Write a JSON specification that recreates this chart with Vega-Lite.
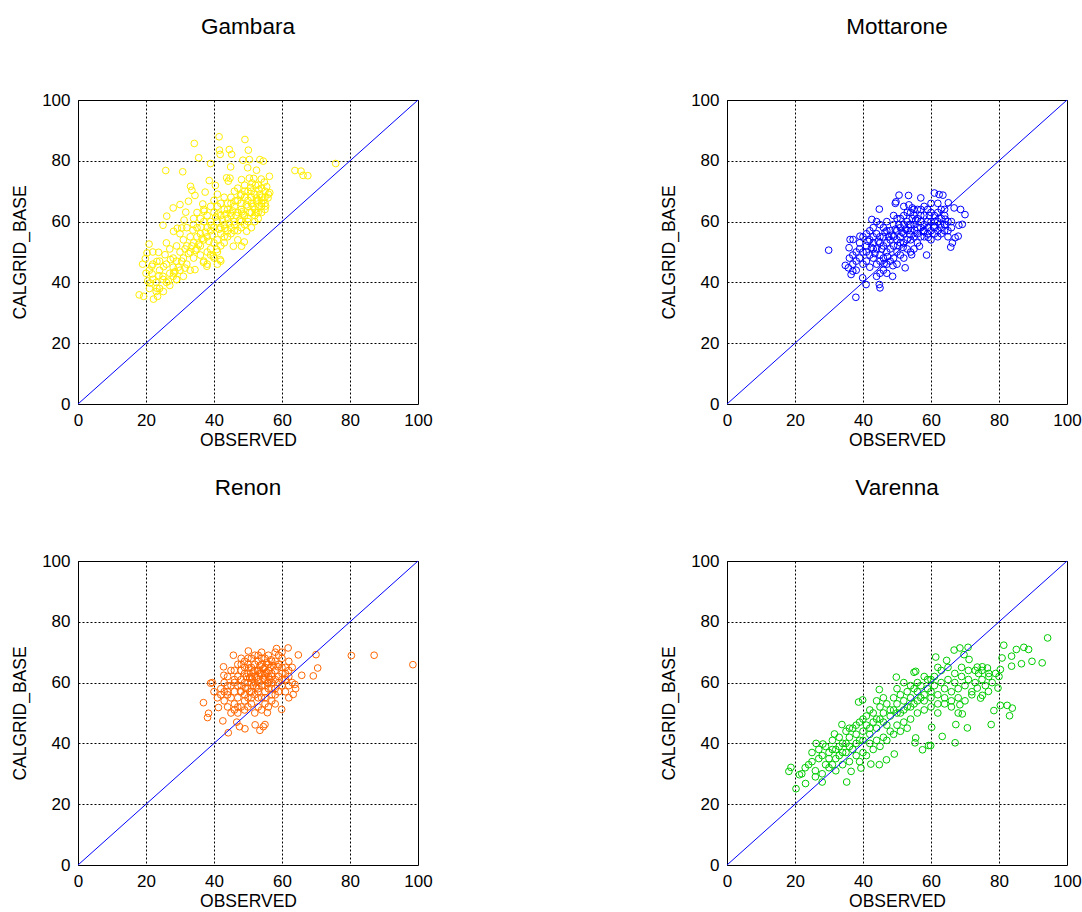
{
"$schema": "https://vega.github.io/schema/vega-lite/v6.json",
"padding": {"left": 11, "top": 15, "right": 5, "bottom": 5},
"background": "white",
"config": {
  "font": "Liberation Sans",
  "view": {"stroke": "#000000", "strokeWidth": 1},
  "axis": {"grid": true, "gridColor": "#000000", "gridDash": [2, 2], "gridOpacity": 1, "gridWidth": 1, "domain": false, "ticks": false, "labelFont": "Liberation Sans", "labelFontSize": 17, "labelColor": "#000000", "titleFont": "Liberation Sans", "titleFontSize": 17.5, "titleFontWeight": "normal", "titleColor": "#000000", "labelPadding": 8, "labelOverlap": false, "labelFlush": false},
  "axisX": {"titlePadding": 3},
  "axisY": {"titlePadding": 12},
  "title": {"font": "Liberation Sans", "fontSize": 22.5, "fontWeight": "normal", "color": "#000000", "offset": 53}
},
"datasets": {
  "diag": [{"x": 0, "y": 0}, {"x": 100, "y": 100}],
  "gambara": [
{"x":34.2,"y":85.7},{"x":41.5,"y":87.9},{"x":49.1,"y":87.0},{"x":41.6,"y":83.5},{"x":44.5,"y":83.7},{"x":50.1,"y":83.5},{"x":35.5,"y":81.0},{"x":45.2,"y":82.1},{"x":41.8,"y":82.1},{"x":25.8,"y":76.8},{"x":30.8,"y":76.4},{"x":39.0,"y":79.1},{"x":48.5,"y":80.2},{"x":50.4,"y":80.4},{"x":53.5,"y":80.4},{"x":54.5,"y":79.9},{"x":44.9,"y":78.0},{"x":49.9,"y":77.7},{"x":52.5,"y":76.9},{"x":63.8,"y":76.8},{"x":65.6,"y":76.6},{"x":66.2,"y":75.2},{"x":67.6,"y":75.1},{"x":75.8,"y":79.1},{"x":56.3,"y":74.9},{"x":18.0,"y":35.9},{"x":19.3,"y":35.4},{"x":22.2,"y":34.5},{"x":20.9,"y":52.6},{"x":19.8,"y":47.8},{"x":20.3,"y":49.7},{"x":26.1,"y":61.8},{"x":25.0,"y":58.8},{"x":28.0,"y":64.5},{"x":30.0,"y":65.6},{"x":33.1,"y":71.6},{"x":33.5,"y":70.3},{"x":34.4,"y":68.6},{"x":37.4,"y":69.7},{"x":38.6,"y":73.5},{"x":40.4,"y":71.9},{"x":43.7,"y":74.4},{"x":44.7,"y":74.3},{"x":44.2,"y":73.3},{"x":48.1,"y":73.8},{"x":50.4,"y":74.3},{"x":51.7,"y":74.2},{"x":53.9,"y":74.0},{"x":56.4,"y":69.5},{"x":55.9,"y":67.8},{"x":36.7,"y":65.8},{"x":37.1,"y":63.4},{"x":32.5,"y":66.7},{"x":31.7,"y":63.1},{"x":30.5,"y":57.9},{"x":28.1,"y":56.8},{"x":23.7,"y":49.9},{"x":25.6,"y":49.1},{"x":21.7,"y":45.3},{"x":23.2,"y":46.9},{"x":21.2,"y":39.8},{"x":23.2,"y":38.1},{"x":25.1,"y":37.0},{"x":23.4,"y":35.4},{"x":26.6,"y":40.4},{"x":28.1,"y":43.1},{"x":29.0,"y":40.9},{"x":31.5,"y":44.7},{"x":34.4,"y":44.2},{"x":36.9,"y":46.6},{"x":37.9,"y":45.3},{"x":39.8,"y":48.6},{"x":41.8,"y":47.5},{"x":40.8,"y":50.8},{"x":45.7,"y":51.9},{"x":48.1,"y":51.9},{"x":48.9,"y":53.3},{"x":49.6,"y":56.8},{"x":52.5,"y":62.9},{"x":55.2,"y":65.1},{"x":52.5,"y":67.8},{"x":51.2,"y":72.7},
{"x":38,"y":55},{"x":39,"y":57},{"x":40,"y":58},{"x":41,"y":60},{"x":42,"y":56},{"x":43,"y":59},{"x":44,"y":61},{"x":45,"y":62},{"x":46,"y":60},{"x":47,"y":63},{"x":48,"y":64},{"x":49,"y":62},{"x":50,"y":65},{"x":51,"y":66},{"x":52,"y":64},{"x":53,"y":67},{"x":54,"y":68},{"x":55,"y":66},{"x":40,"y":53},{"x":41,"y":54},{"x":42,"y":62},{"x":43,"y":64},{"x":44,"y":57},{"x":45,"y":58},{"x":46,"y":65},{"x":47,"y":67},{"x":48,"y":60},{"x":49,"y":68},{"x":50,"y":61},{"x":51,"y":70},{"x":52,"y":69},{"x":53,"y":63},{"x":54,"y":71},{"x":55,"y":70},{"x":39,"y":60},{"x":40,"y":63},{"x":41,"y":65},{"x":42,"y":58},{"x":43,"y":55},{"x":44,"y":66},{"x":45,"y":68},{"x":46,"y":59},{"x":47,"y":57},{"x":48,"y":66},{"x":49,"y":70},{"x":50,"y":67},{"x":51,"y":63},{"x":52,"y":60},{"x":53,"y":72},{"x":54,"y":65},{"x":55,"y":68},{"x":56,"y":69},{"x":36,"y":52},{"x":37,"y":54},{"x":38,"y":58},{"x":39,"y":51},{"x":35,"y":55},{"x":34,"y":53},{"x":33,"y":50},{"x":32,"y":52},{"x":31,"y":48},{"x":30,"y":50},{"x":29,"y":47},{"x":28,"y":45},{"x":27,"y":43},{"x":26,"y":46},{"x":25,"y":42},{"x":24,"y":44},{"x":23,"y":40},{"x":22,"y":41},{"x":21,"y":38},{"x":24,"y":38},{"x":26,"y":40},{"x":28,"y":42},{"x":30,"y":44},{"x":32,"y":46},{"x":34,"y":48},{"x":36,"y":49},{"x":38,"y":50},{"x":33,"y":55},{"x":35,"y":58},{"x":37,"y":60},{"x":34,"y":61},{"x":36,"y":56},{"x":31,"y":54},{"x":29,"y":52},{"x":27,"y":51},{"x":30,"y":56},{"x":32,"y":58},{"x":28,"y":48},{"x":26,"y":53},{"x":24,"y":47},{"x":22,"y":46},{"x":35,"y":51},{"x":37,"y":47},{"x":39,"y":49},{"x":41,"y":50},{"x":42,"y":52},{"x":43,"y":53},{"x":44,"y":55},{"x":45,"y":56},{"x":46,"y":57},{"x":47,"y":54},{"x":48,"y":58},{"x":49,"y":59},{"x":50,"y":60},{"x":51,"y":58},{"x":52,"y":62},{"x":53,"y":61},{"x":54,"y":63},{"x":55,"y":64},{"x":44,"y":64},{"x":45,"y":66},{"x":46,"y":70},{"x":47,"y":71},{"x":48,"y":69},{"x":49,"y":72},{"x":50,"y":70},{"x":51,"y":68},{"x":53,"y":65},{"x":54,"y":66},{"x":43,"y":68},{"x":42,"y":66},{"x":41,"y":69},{"x":40,"y":67},{"x":39,"y":65},{"x":38,"y":62},{"x":37,"y":64},{"x":36,"y":61},{"x":35,"y":63},{"x":34,"y":59},{"x":40,"y":48},{"x":42,"y":47},{"x":41,"y":46},{"x":38,"y":46},{"x":33,"y":44},{"x":31,"y":42},{"x":29,"y":41},{"x":27,"y":39},{"x":25,"y":41},{"x":23,"y":37},{"x":20,"y":43},{"x":21,"y":44},{"x":22,"y":50},{"x":19,"y":46},
{"x":42.5,"y":60.5},{"x":43.5,"y":62.5},{"x":44.5,"y":59.5},{"x":45.5,"y":63.5},{"x":46.5,"y":62},{"x":47.5,"y":60.5},{"x":48.5,"y":62.5},{"x":49.5,"y":65.5},{"x":50.5,"y":63},{"x":51.5,"y":65},{"x":52.5,"y":66.5},{"x":53.5,"y":69},{"x":54.5,"y":67},{"x":55.5,"y":71.5},{"x":41.5,"y":57.5},{"x":40.5,"y":61.5},{"x":39.5,"y":55.5},{"x":38.5,"y":53.5},{"x":37.5,"y":56.5},{"x":36.5,"y":54.5},{"x":35.5,"y":52.5},{"x":34.5,"y":50.5},{"x":33.5,"y":52},{"x":32.5,"y":49.5},{"x":31.5,"y":51},{"x":30.5,"y":47},{"x":29.5,"y":45},{"x":28.5,"y":43.5},
{"x":46.2,"y":66.8},{"x":47.8,"y":68.5},{"x":50.8,"y":71.2},{"x":52.2,"y":72},{"x":53.2,"y":70.5},{"x":54.8,"y":73},{"x":48.2,"y":63.2},{"x":44.8,"y":62.8},{"x":43.2,"y":57.8},{"x":41.2,"y":62.5},{"x":39.2,"y":58.8},{"x":36.2,"y":58.2},{"x":33.8,"y":57.2},{"x":31.2,"y":60.5},{"x":29.2,"y":57.8},{"x":27.2,"y":47.5},{"x":25.2,"y":45.2},{"x":23.8,"y":42.2},{"x":21.8,"y":42.8},{"x":20.5,"y":40.5}
  ],
  "mottarone": [
{"x":29.9,"y":50.6},{"x":37.9,"y":35.1},{"x":45.0,"y":38.2},{"x":44.8,"y":39.3},{"x":40.9,"y":39.3},{"x":39.9,"y":41.5},{"x":48.7,"y":42.0},{"x":52.4,"y":44.8},{"x":34.8,"y":45.6},{"x":35.7,"y":44.8},{"x":36.5,"y":42.6},{"x":37.0,"y":43.7},{"x":35.9,"y":51.4},{"x":36.2,"y":54.1},{"x":37.1,"y":54.1},{"x":39.1,"y":55.2},{"x":42.6,"y":60.7},{"x":44.8,"y":64.1},{"x":49.5,"y":66.0},{"x":49.7,"y":66.5},{"x":50.6,"y":68.7},{"x":53.4,"y":68.6},{"x":57.0,"y":67.8},{"x":61.0,"y":69.4},{"x":62.4,"y":68.9},{"x":63.5,"y":68.7},{"x":65.1,"y":66.2},{"x":66.8,"y":64.5},{"x":68.7,"y":64.0},{"x":70.0,"y":62.3},{"x":69.2,"y":59.1},{"x":68.2,"y":58.8},{"x":68.0,"y":55.2},{"x":67.1,"y":54.7},{"x":65.8,"y":51.6},{"x":66.3,"y":53.0},{"x":58.7,"y":49.0},{"x":54.3,"y":49.1},{"x":56.6,"y":51.9},
{"x":40,"y":50},{"x":41,"y":52},{"x":42,"y":54},{"x":43,"y":48},{"x":44,"y":51},{"x":45,"y":53},{"x":46,"y":55},{"x":47,"y":50},{"x":48,"y":57},{"x":49,"y":52},{"x":50,"y":54},{"x":51,"y":58},{"x":52,"y":56},{"x":53,"y":60},{"x":54,"y":57},{"x":55,"y":59},{"x":56,"y":61},{"x":57,"y":58},{"x":58,"y":62},{"x":59,"y":56},{"x":60,"y":60},{"x":61,"y":58},{"x":62,"y":57},{"x":63,"y":61},{"x":64,"y":59},{"x":65,"y":57},{"x":66,"y":60},{"x":42,"y":57},{"x":43,"y":55},{"x":44,"y":46},{"x":45,"y":49},{"x":46,"y":58},{"x":47,"y":60},{"x":48,"y":47},{"x":49,"y":55},{"x":50,"y":61},{"x":51,"y":53},{"x":52,"y":62},{"x":53,"y":54},{"x":54,"y":63},{"x":55,"y":55},{"x":56,"y":56},{"x":57,"y":62},{"x":58,"y":59},{"x":59,"y":64},{"x":60,"y":57},{"x":61,"y":62},{"x":62,"y":55},{"x":63,"y":58},{"x":64,"y":62},{"x":65,"y":55},{"x":41,"y":47},{"x":42,"y":45},{"x":43,"y":51},{"x":44,"y":56},{"x":45,"y":59},{"x":46,"y":48},{"x":47,"y":53},{"x":48,"y":51},{"x":49,"y":59},{"x":50,"y":57},{"x":51,"y":49},{"x":52,"y":53},{"x":53,"y":57},{"x":54,"y":59},{"x":55,"y":62},{"x":56,"y":58},{"x":57,"y":55},{"x":58,"y":57},{"x":59,"y":60},{"x":60,"y":63},{"x":61,"y":56},{"x":62,"y":60},{"x":63,"y":56},{"x":38,"y":50},{"x":39,"y":48},{"x":40,"y":46},{"x":37,"y":49},{"x":38,"y":47},{"x":39,"y":53},{"x":40,"y":55},{"x":41,"y":56},{"x":42,"y":49},{"x":43,"y":58},{"x":44,"y":60},{"x":45,"y":47},{"x":46,"y":52},{"x":47,"y":46},{"x":48,"y":54},{"x":49,"y":48},{"x":50,"y":50},{"x":51,"y":55},{"x":52,"y":59},{"x":53,"y":51},{"x":54,"y":54},{"x":55,"y":51},{"x":56,"y":53},{"x":57,"y":60},{"x":58,"y":55},{"x":59,"y":58},{"x":60,"y":54},{"x":61,"y":60},{"x":62,"y":63},{"x":63,"y":64},{"x":64,"y":57},{"x":65,"y":60},{"x":66,"y":58},{"x":45,"y":43},{"x":47,"y":43},{"x":46,"y":44},{"x":44,"y":42},{"x":50,"y":46},{"x":52,"y":48},{"x":54,"y":50},{"x":53,"y":63},{"x":55,"y":64},{"x":57,"y":64},{"x":52,"y":65},{"x":51,"y":61},{"x":49,"y":62},{"x":47,"y":57},{"x":45,"y":55},{"x":43,"y":53},{"x":41,"y":50},{"x":39,"y":51},{"x":36,"y":48},{"x":37,"y":46},{"x":38,"y":44},{"x":60,"y":66},{"x":62,"y":66},{"x":64,"y":64},{"x":58,"y":65},{"x":56,"y":64},
{"x":48.5,"y":55.5},{"x":49.5,"y":57.5},{"x":50.5,"y":59},{"x":51.5,"y":56.5},{"x":52.5,"y":57.5},{"x":53.5,"y":59},{"x":54.5,"y":61},{"x":55.5,"y":60.5},{"x":47.5,"y":55},{"x":46.5,"y":56.5},{"x":45.5,"y":51},{"x":44.5,"y":53.5},{"x":43.5,"y":49.5},{"x":42.5,"y":51.5},{"x":41.5,"y":53.5},{"x":53.5,"y":65.5},{"x":54.5,"y":64.5},{"x":59.5,"y":62},
{"x":50.2,"y":52.2},{"x":51.8,"y":51.5},{"x":47.2,"y":48.5},{"x":48.8,"y":45.5},{"x":46.2,"y":46.2},{"x":53.8,"y":55.8},{"x":55.2,"y":57.2},{"x":57.8,"y":56.8},{"x":59.2,"y":54.8},{"x":60.8,"y":58.5},{"x":62.8,"y":59.2},{"x":64.2,"y":60.8}
  ],
  "renon": [
{"x":98.5,"y":65.9},{"x":87.1,"y":69.0},{"x":80.4,"y":68.9},{"x":70.0,"y":69.2},{"x":70.5,"y":64.8},{"x":69.2,"y":62.2},{"x":65.8,"y":62.4},{"x":64.8,"y":69.1},{"x":61.8,"y":71.4},{"x":63.3,"y":56.1},{"x":59.9,"y":51.2},{"x":44.2,"y":43.5},{"x":49.1,"y":44.8},{"x":53.5,"y":44.3},{"x":54.5,"y":45.5},{"x":55.0,"y":46.2},{"x":52.1,"y":46.1},{"x":36.9,"y":53.4},{"x":38.4,"y":49.9},{"x":38.1,"y":48.5},{"x":39.0,"y":59.8},{"x":39.5,"y":60.0},{"x":42.8,"y":65.2},{"x":42.9,"y":62.4},{"x":45.7,"y":69.0},{"x":50.1,"y":70.4},{"x":58.4,"y":71.2},{"x":46.7,"y":47.0},{"x":47.5,"y":45.5},{"x":42.6,"y":47.4},{"x":41.3,"y":51.8},{"x":55.7,"y":50.1},{"x":63.8,"y":59.4},
{"x":45,"y":55},{"x":46,"y":57},{"x":47,"y":59},{"x":48,"y":61},{"x":49,"y":63},{"x":50,"y":60},{"x":51,"y":62},{"x":52,"y":64},{"x":53,"y":61},{"x":54,"y":63},{"x":55,"y":65},{"x":56,"y":62},{"x":57,"y":60},{"x":58,"y":64},{"x":59,"y":66},{"x":60,"y":63},{"x":61,"y":61},{"x":62,"y":59},{"x":46,"y":64},{"x":47,"y":66},{"x":48,"y":68},{"x":49,"y":67},{"x":50,"y":66},{"x":51,"y":68},{"x":52,"y":69},{"x":53,"y":67},{"x":54,"y":70},{"x":55,"y":68},{"x":56,"y":69},{"x":57,"y":67},{"x":58,"y":70},{"x":59,"y":69},{"x":60,"y":68},{"x":44,"y":57},{"x":45,"y":59},{"x":46,"y":53},{"x":47,"y":55},{"x":48,"y":57},{"x":49,"y":56},{"x":50,"y":55},{"x":51,"y":57},{"x":52,"y":56},{"x":53,"y":58},{"x":54,"y":55},{"x":55,"y":57},{"x":56,"y":58},{"x":57,"y":56},{"x":58,"y":58},{"x":59,"y":57},{"x":60,"y":59},{"x":61,"y":57},{"x":62,"y":62},{"x":43,"y":54},{"x":44,"y":52},{"x":45,"y":50},{"x":46,"y":51},{"x":47,"y":50},{"x":48,"y":52},{"x":49,"y":51},{"x":50,"y":52},{"x":51,"y":53},{"x":52,"y":50},{"x":53,"y":52},{"x":54,"y":51},{"x":55,"y":53},{"x":56,"y":52},{"x":57,"y":54},{"x":58,"y":53},{"x":48,"y":64},{"x":49,"y":60},{"x":50,"y":63},{"x":51,"y":65},{"x":52,"y":60},{"x":53,"y":64},{"x":54,"y":66},{"x":55,"y":61},{"x":56,"y":66},{"x":57,"y":63},{"x":58,"y":61},{"x":59,"y":62},{"x":60,"y":65},{"x":61,"y":65},{"x":62,"y":67},{"x":63,"y":65},{"x":42,"y":58},{"x":43,"y":60},{"x":44,"y":62},{"x":45,"y":64},{"x":46,"y":61},{"x":47,"y":62},{"x":48,"y":59},{"x":49,"y":65},{"x":50,"y":58},{"x":51,"y":60},{"x":52,"y":62},{"x":53,"y":55},{"x":54,"y":59},{"x":55,"y":59},{"x":56,"y":60},{"x":57,"y":58},{"x":58,"y":56},{"x":59,"y":60},{"x":60,"y":61},{"x":61,"y":63},{"x":44,"y":56},{"x":41,"y":55},{"x":42,"y":56},{"x":43,"y":57},{"x":40,"y":57},{"x":47,"y":52},{"x":49,"y":54},{"x":51,"y":55},{"x":53,"y":57},{"x":55,"y":55},{"x":57,"y":62},{"x":52,"y":66},{"x":54,"y":68},{"x":56,"y":64},{"x":50,"y":68},{"x":48,"y":66},{"x":46,"y":60},{"x":44,"y":59},{"x":53,"y":69},{"x":55,"y":63},{"x":58,"y":67},{"x":60,"y":70},{"x":62,"y":64},{"x":63,"y":60},{"x":64,"y":58},{"x":62,"y":55},
{"x":52.5,"y":61.5},{"x":53.5,"y":63},{"x":54.5,"y":61.5},{"x":55.5,"y":63.5},{"x":56.5,"y":65},{"x":51.5,"y":63.5},{"x":50.5,"y":61.5},{"x":49.5,"y":62},{"x":53.5,"y":65.5},{"x":54.5,"y":64.5},{"x":55.5,"y":66.5},{"x":52.5,"y":58.5},{"x":51.5,"y":59},{"x":50.5,"y":57},{"x":56.5,"y":61},{"x":57.5,"y":65.5},
{"x":53.2,"y":60.2},{"x":54.8,"y":62.2},{"x":52.8,"y":63.8},{"x":51.2,"y":61.2},{"x":55.8,"y":59.8},{"x":56.8,"y":67.5},{"x":50.2,"y":64.8},{"x":49.2,"y":58.2},{"x":47.8,"y":57.2},{"x":58.8,"y":65.2}
  ],
  "varenna": [
{"x":94.3,"y":74.7},{"x":92.7,"y":66.5},{"x":89.7,"y":67.0},{"x":88.7,"y":70.9},{"x":87.3,"y":71.6},{"x":85.1,"y":70.9},{"x":83.7,"y":68.7},{"x":81.4,"y":72.3},{"x":80.9,"y":68.1},{"x":80.4,"y":64.3},{"x":83.7,"y":65.4},{"x":86.6,"y":66.2},{"x":83.9,"y":51.6},{"x":82.4,"y":52.5},{"x":83.1,"y":49.1},{"x":80.4,"y":52.5},{"x":78.5,"y":50.8},{"x":77.7,"y":46.2},{"x":70.7,"y":45.1},{"x":67.3,"y":46.2},{"x":67.1,"y":40.2},{"x":63.3,"y":42.3},{"x":60.2,"y":45.3},{"x":59.9,"y":39.3},{"x":59.3,"y":39.3},{"x":57.5,"y":37.9},{"x":55.3,"y":40.2},{"x":55.5,"y":41.8},{"x":46.9,"y":34.6},{"x":44.8,"y":33.0},{"x":42.3,"y":33.2},{"x":49.2,"y":36.5},{"x":35.2,"y":27.3},{"x":28.0,"y":27.3},{"x":20.3,"y":25.1},{"x":18.2,"y":30.8},{"x":18.8,"y":32.1},{"x":21.3,"y":29.7},{"x":23.1,"y":26.8},{"x":26.2,"y":40.0},{"x":28.2,"y":39.8},{"x":31.6,"y":43.1},{"x":33.8,"y":46.2},{"x":38.7,"y":53.6},{"x":39.9,"y":54.3},{"x":44.8,"y":57.7},{"x":49.8,"y":61.8},{"x":55.0,"y":63.4},{"x":55.5,"y":63.7},{"x":61.4,"y":68.4},{"x":64.6,"y":67.3},{"x":66.8,"y":70.7},{"x":68.5,"y":71.4},{"x":70.9,"y":71.6},{"x":69.7,"y":69.2},{"x":71.2,"y":67.6},{"x":73.6,"y":65.1},{"x":75.1,"y":65.2},{"x":76.6,"y":64.8},{"x":74.6,"y":54.9},{"x":75.1,"y":55.8},{"x":73.6,"y":58.2},{"x":69.2,"y":49.7},{"x":68.5,"y":52.7},{"x":79.7,"y":58.2},{"x":76.9,"y":57.1},{"x":36.5,"y":30.8},{"x":39.4,"y":31.9},
{"x":22,"y":30},{"x":23,"y":32},{"x":24,"y":33},{"x":25,"y":34},{"x":26,"y":31},{"x":27,"y":35},{"x":28,"y":36},{"x":29,"y":33},{"x":30,"y":37},{"x":31,"y":38},{"x":32,"y":35},{"x":33,"y":39},{"x":34,"y":37},{"x":35,"y":40},{"x":36,"y":42},{"x":37,"y":38},{"x":38,"y":43},{"x":39,"y":41},{"x":40,"y":44},{"x":41,"y":46},{"x":42,"y":43},{"x":43,"y":47},{"x":44,"y":45},{"x":45,"y":48},{"x":46,"y":50},{"x":47,"y":46},{"x":48,"y":49},{"x":49,"y":51},{"x":50,"y":53},{"x":51,"y":50},{"x":52,"y":54},{"x":53,"y":52},{"x":54,"y":55},{"x":55,"y":53},{"x":56,"y":57},{"x":57,"y":55},{"x":58,"y":56},{"x":59,"y":58},{"x":60,"y":57},{"x":61,"y":59},{"x":62,"y":56},{"x":63,"y":60},{"x":64,"y":58},{"x":65,"y":61},{"x":66,"y":57},{"x":67,"y":60},{"x":68,"y":58},{"x":69,"y":62},{"x":70,"y":59},{"x":71,"y":61},{"x":72,"y":57},{"x":73,"y":60},{"x":74,"y":63},{"x":75,"y":61},{"x":76,"y":59},{"x":77,"y":62},{"x":78,"y":60},{"x":79,"y":63},{"x":80,"y":62},{"x":25,"y":37},{"x":27,"y":38},{"x":29,"y":39},{"x":31,"y":41},{"x":33,"y":42},{"x":35,"y":44},{"x":37,"y":45},{"x":39,"y":47},{"x":41,"y":49},{"x":43,"y":50},{"x":45,"y":52},{"x":47,"y":53},{"x":49,"y":55},{"x":51,"y":56},{"x":53,"y":57},{"x":55,"y":58},{"x":57,"y":59},{"x":59,"y":61},{"x":61,"y":62},{"x":63,"y":64},{"x":65,"y":65},{"x":67,"y":63},{"x":69,"y":65},{"x":71,"y":64},{"x":73,"y":64},{"x":75,"y":64},{"x":77,"y":63},{"x":26,"y":29},{"x":28,"y":30},{"x":30,"y":32},{"x":32,"y":31},{"x":34,"y":33},{"x":36,"y":34},{"x":38,"y":36},{"x":40,"y":37},{"x":42,"y":40},{"x":44,"y":41},{"x":46,"y":42},{"x":48,"y":44},{"x":50,"y":46},{"x":52,"y":47},{"x":54,"y":48},{"x":56,"y":50},{"x":58,"y":51},{"x":60,"y":52},{"x":62,"y":50},{"x":64,"y":53},{"x":66,"y":54},{"x":68,"y":55},{"x":70,"y":54},{"x":72,"y":56},{"x":30,"y":35},{"x":32,"y":38},{"x":34,"y":40},{"x":36,"y":39},{"x":38,"y":40},{"x":40,"y":41},{"x":42,"y":45},{"x":44,"y":48},{"x":46,"y":47},{"x":48,"y":51},{"x":50,"y":50},{"x":52,"y":51},{"x":54,"y":52},{"x":56,"y":54},{"x":58,"y":54},{"x":60,"y":55},{"x":62,"y":53},{"x":64,"y":55},{"x":66,"y":52},{"x":68,"y":50},{"x":50,"y":58},{"x":52,"y":60},{"x":54,"y":59},{"x":56,"y":60},{"x":58,"y":62},{"x":60,"y":61},{"x":62,"y":65},{"x":44,"y":54},{"x":46,"y":55},{"x":42,"y":51},{"x":40,"y":48},{"x":38,"y":46},{"x":36,"y":45},{"x":33,"y":36},{"x":31,"y":33},{"x":35,"y":37},{"x":39,"y":34},{"x":41,"y":36},{"x":43,"y":38},{"x":45,"y":39},{"x":47,"y":41},{"x":49,"y":43},{"x":51,"y":44},{"x":53,"y":45}
  ]
},
"columns": 2,
"spacing": {"column": 227, "row": 27},
"concat": [
  {"title": "Gambara", "width": 340, "height": 304, "layer": [
    {"data": {"name": "gambara"}, "mark": {"type": "point", "shape": "circle", "filled": false, "color": "#ffee00", "opacity": 1, "size": 45, "strokeWidth": 1},
     "encoding": {"x": {"field": "x", "type": "quantitative", "scale": {"domain": [0, 100]}, "axis": {"values": [0, 20, 40, 60, 80, 100]}, "title": "OBSERVED"}, "y": {"field": "y", "type": "quantitative", "scale": {"domain": [0, 100]}, "axis": {"values": [0, 20, 40, 60, 80, 100]}, "title": "CALGRID_BASE"}}},
    {"data": {"name": "diag"}, "mark": {"type": "line", "color": "#0000ff", "strokeWidth": 1},
     "encoding": {"x": {"field": "x", "type": "quantitative"}, "y": {"field": "y", "type": "quantitative"}}}
  ]},
  {"title": "Mottarone", "width": 340, "height": 304, "layer": [
    {"data": {"name": "mottarone"}, "mark": {"type": "point", "shape": "circle", "filled": false, "color": "#0000ff", "opacity": 1, "size": 45, "strokeWidth": 1},
     "encoding": {"x": {"field": "x", "type": "quantitative", "scale": {"domain": [0, 100]}, "axis": {"values": [0, 20, 40, 60, 80, 100]}, "title": "OBSERVED"}, "y": {"field": "y", "type": "quantitative", "scale": {"domain": [0, 100]}, "axis": {"values": [0, 20, 40, 60, 80, 100]}, "title": "CALGRID_BASE"}}},
    {"data": {"name": "diag"}, "mark": {"type": "line", "color": "#0000ff", "strokeWidth": 1},
     "encoding": {"x": {"field": "x", "type": "quantitative"}, "y": {"field": "y", "type": "quantitative"}}}
  ]},
  {"title": "Renon", "width": 340, "height": 304, "layer": [
    {"data": {"name": "renon"}, "mark": {"type": "point", "shape": "circle", "filled": false, "color": "#ff6600", "opacity": 1, "size": 45, "strokeWidth": 1},
     "encoding": {"x": {"field": "x", "type": "quantitative", "scale": {"domain": [0, 100]}, "axis": {"values": [0, 20, 40, 60, 80, 100]}, "title": "OBSERVED"}, "y": {"field": "y", "type": "quantitative", "scale": {"domain": [0, 100]}, "axis": {"values": [0, 20, 40, 60, 80, 100]}, "title": "CALGRID_BASE"}}},
    {"data": {"name": "diag"}, "mark": {"type": "line", "color": "#0000ff", "strokeWidth": 1},
     "encoding": {"x": {"field": "x", "type": "quantitative"}, "y": {"field": "y", "type": "quantitative"}}}
  ]},
  {"title": "Varenna", "width": 340, "height": 304, "layer": [
    {"data": {"name": "varenna"}, "mark": {"type": "point", "shape": "circle", "filled": false, "color": "#00cc00", "opacity": 1, "size": 45, "strokeWidth": 1},
     "encoding": {"x": {"field": "x", "type": "quantitative", "scale": {"domain": [0, 100]}, "axis": {"values": [0, 20, 40, 60, 80, 100]}, "title": "OBSERVED"}, "y": {"field": "y", "type": "quantitative", "scale": {"domain": [0, 100]}, "axis": {"values": [0, 20, 40, 60, 80, 100]}, "title": "CALGRID_BASE"}}},
    {"data": {"name": "diag"}, "mark": {"type": "line", "color": "#0000ff", "strokeWidth": 1},
     "encoding": {"x": {"field": "x", "type": "quantitative"}, "y": {"field": "y", "type": "quantitative"}}}
  ]}
]
}
